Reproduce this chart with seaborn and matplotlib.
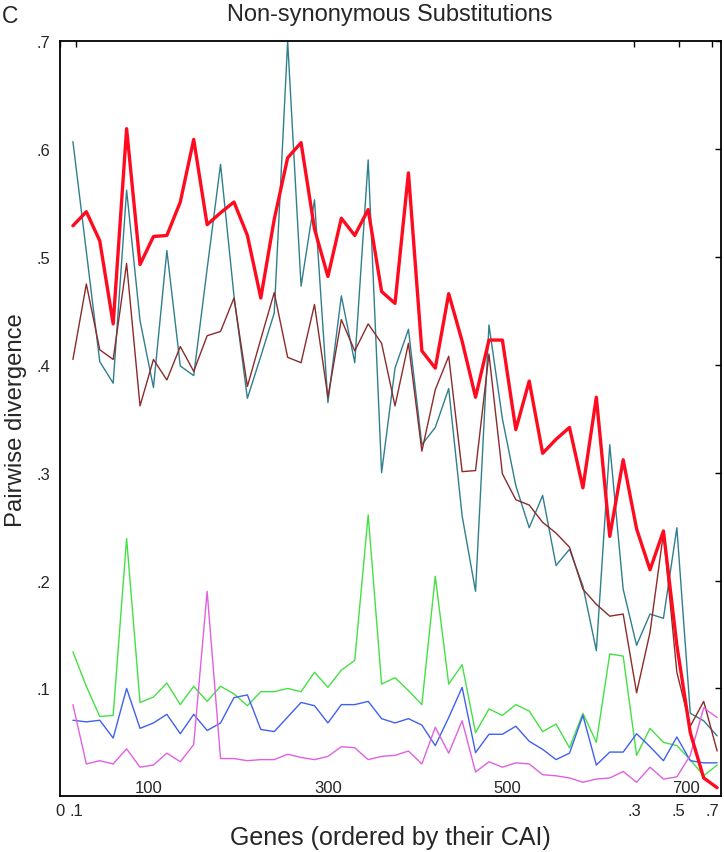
import matplotlib
matplotlib.use("Agg")
import matplotlib.pyplot as plt
import seaborn as sns
import pandas as pd

# ---- data -------------------------------------------------------------
gene_bin = list(range(15, 736, 15))          # gene-rank bins (x positions)

red = [0.529, 0.542, 0.515, 0.438, 0.619, 0.493, 0.519, 0.520, 0.551, 0.609,
       0.530, 0.541, 0.551, 0.520, 0.462, 0.535, 0.592, 0.606, 0.526, 0.482,
       0.536, 0.520, 0.544, 0.468, 0.457, 0.578, 0.413, 0.397, 0.466, 0.422,
       0.370, 0.423, 0.423, 0.340, 0.385, 0.318, 0.331, 0.342, 0.286, 0.370,
       0.241, 0.312, 0.248, 0.210, 0.246, 0.140, 0.059, 0.017, 0.008]
teal = [0.607, 0.505, 0.403, 0.383, 0.562, 0.441, 0.379, 0.506, 0.399, 0.390,
        0.489, 0.586, 0.464, 0.369, 0.408, 0.448, 0.700, 0.473, 0.553, 0.365,
        0.464, 0.402, 0.590, 0.300, 0.397, 0.433, 0.326, 0.342, 0.378, 0.260,
        0.190, 0.437, 0.350, 0.288, 0.249, 0.279, 0.214, 0.229, 0.195, 0.135,
        0.326, 0.192, 0.140, 0.169, 0.165, 0.249, 0.077, 0.070, 0.056]
brown = [0.405, 0.475, 0.414, 0.405, 0.494, 0.362, 0.405, 0.386, 0.417, 0.394,
         0.427, 0.431, 0.462, 0.380, 0.424, 0.467, 0.407, 0.402, 0.456, 0.370,
         0.442, 0.413, 0.438, 0.420, 0.362, 0.420, 0.320, 0.377, 0.408, 0.301,
         0.302, 0.410, 0.299, 0.275, 0.270, 0.254, 0.244, 0.231, 0.192, 0.178,
         0.167, 0.169, 0.096, 0.152, 0.244, 0.115, 0.065, 0.088, 0.042]
green = [0.134, 0.102, 0.074, 0.075, 0.239, 0.087, 0.092, 0.105, 0.085, 0.102,
         0.088, 0.102, 0.095, 0.084, 0.097, 0.097, 0.100, 0.097, 0.115, 0.101,
         0.117, 0.126, 0.261, 0.104, 0.110, 0.098, 0.085, 0.204, 0.104, 0.122,
         0.059, 0.081, 0.075, 0.085, 0.079, 0.060, 0.067, 0.045, 0.077, 0.050,
         0.132, 0.130, 0.038, 0.063, 0.050, 0.047, 0.034, 0.019, 0.029]
blue = [0.0705, 0.069, 0.0705, 0.054, 0.100, 0.063, 0.068, 0.076, 0.058, 0.076,
        0.061, 0.068, 0.0915, 0.094, 0.062, 0.060, 0.0735, 0.087, 0.084, 0.068,
        0.085, 0.085, 0.088, 0.072, 0.068, 0.072, 0.066, 0.047, 0.073, 0.101,
        0.0405, 0.0575, 0.0575, 0.065, 0.051, 0.0435, 0.034, 0.040, 0.075, 0.029,
        0.041, 0.041, 0.058, 0.046, 0.033, 0.055, 0.033, 0.031, 0.031]
magenta = [0.085, 0.030, 0.033, 0.030, 0.044, 0.027, 0.029, 0.040, 0.032, 0.048,
           0.190, 0.035, 0.035, 0.033, 0.034, 0.034, 0.039, 0.036, 0.034, 0.037,
           0.046, 0.045, 0.034, 0.037, 0.038, 0.042, 0.030, 0.064, 0.040, 0.070,
           0.0225, 0.032, 0.027, 0.031, 0.030, 0.020, 0.019, 0.017, 0.013, 0.016,
           0.017, 0.023, 0.013, 0.027, 0.016, 0.018, 0.038, 0.082, 0.073]

# CAI scale (bottom/top ticks) placed at gene-rank positions
cai_tick_pos = [0, 18.4, 642.3, 692.0, 729.5]
cai_tick_labels = ["0", ".1", ".3", ".5", ".7"]
gene_label_pos = [100, 300, 500, 700]
y_ticks = [0.1, 0.2, 0.3, 0.4, 0.5, 0.6, 0.7]
y_tick_labels = [".1", ".2", ".3", ".4", ".5", ".6", ".7"]

df = pd.DataFrame({"gene": gene_bin, "red": red, "teal": teal, "brown": brown,
                   "green": green, "blue": blue, "magenta": magenta})

# ---- styling ----------------------------------------------------------
sns.set_theme(style="white")
plt.rcParams["font.family"] = ["Liberation Sans", "DejaVu Sans"]

W, H = 724, 853
fig = plt.figure(figsize=(W / 100, H / 100), dpi=100)
L, R, T, B = 59.5, 720.7, 42.3, 797.3
ax = fig.add_axes([L / W, 1 - B / H, (R - L) / W, (B - T) / H])

series = [("teal", "#2f7f8e", 1.0), ("brown", "#8b2b2b", 1.0),
          ("green", "#45e045", 1.0), ("blue", "#4060ee", 1.0),
          ("magenta", "#e060e0", 1.0), ("red", "#ff0a1e", 2.4)]
for name, col, lw in series:
    sns.lineplot(data=df, x="gene", y=name, color=col, linewidth=lw, ax=ax)

ax.set_xlim(0, 739)
ax.set_ylim(0, 0.7)
ax.set_xticks(cai_tick_pos)
ax.set_xticklabels(cai_tick_labels)
ax.set_yticks(y_ticks)
ax.set_yticklabels(y_tick_labels)
ax.tick_params(axis="both", direction="in", length=4, width=1.0, color="black",
               labelsize=12, top=True, right=True, labeltop=False, labelright=False)
ax.tick_params(axis="y", pad=6.8)
ax.tick_params(axis="x", pad=4.5)
for s in ax.spines.values():
    s.set_color("black")
    s.set_linewidth(1.3)

for g in gene_label_pos:
    ax.text(g, 0.0055, str(g), transform=ax.get_xaxis_transform(),
            ha="center", va="baseline", fontsize=12)

ax.set_xlabel("Genes (ordered by their CAI)", fontsize=18)
ax.xaxis.set_label_coords(0.5, (B - 845) / (B - T))
ax.xaxis.label.set_verticalalignment("baseline")
ax.set_ylabel("Pairwise divergence", fontsize=17.2)
ax.yaxis.set_label_coords((27.5 - L) / (R - L), 0.5)

ax.set_title("Non-synonymous Substitutions", fontsize=17, pad=15)
fig.text(1.5 / W, 1 - 23 / H, "C", fontsize=16.5, ha="left", va="baseline")

fig.savefig("out.png", dpi=100)
